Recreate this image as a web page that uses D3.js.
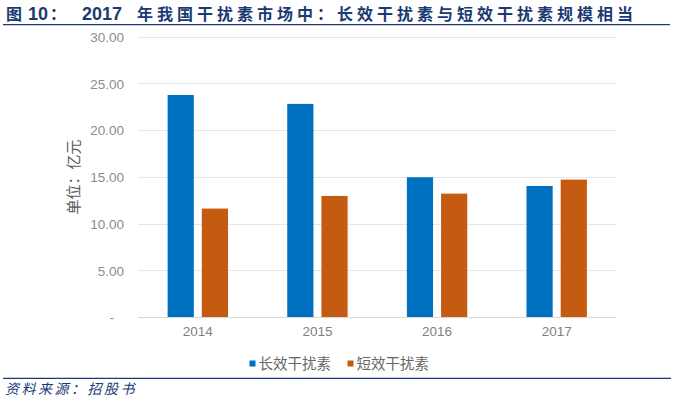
<!DOCTYPE html>
<html><head><meta charset="utf-8">
<script src="https://cdn.jsdelivr.net/npm/d3@7"></script>
<style>
html,body{margin:0;padding:0;background:#fff;}
svg{display:block;}
</style></head>
<body>
<svg id="c" width="684" height="407"></svg>
<script>
const categories = ["2014","2015","2016","2017"];
const seriesNames = ["长效干扰素","短效干扰素"];
const longActing = [23.75, 22.80, 14.95, 14.02];
const shortActing = [11.60, 12.95, 13.20, 14.70];
const yTicks = [0,5,10,15,20,25,30];
const colors = ["#0070C0","#C55A11"];

const svg = d3.select("#c");
const cn = "'Noto Sans CJK SC','Noto Sans',sans-serif";
const lat = "'Liberation Sans',Arial,sans-serif";
const navy = "#1B3A73";

// Title
svg.append("text").attr("x",6).attr("y",20).attr("fill",navy).attr("font-family",cn).attr("font-weight","bold").attr("font-size",16).text("图");
svg.append("text").attr("x",28).attr("y",20).attr("fill",navy).attr("font-family",lat).attr("font-weight","bold").attr("font-size",18).text("10");
svg.append("text").attr("x",50).attr("y",20).attr("fill",navy).attr("font-family",cn).attr("font-weight","bold").attr("font-size",16).text("：");
svg.append("text").attr("x",82).attr("y",20).attr("fill",navy).attr("font-family",lat).attr("font-weight","bold").attr("font-size",18).text("2017");
svg.append("text").attr("x",137).attr("y",20).attr("fill",navy).attr("font-family",cn).attr("font-weight","bold").attr("font-size",16).attr("letter-spacing","4px").text("年我国干扰素市场中：长效干扰素与短效干扰素规模相当");
svg.append("line").attr("x1",3).attr("x2",670).attr("y1",24.7).attr("y2",24.7).attr("stroke",navy).attr("stroke-width",1.3);

// Scales
const x0 = d3.scaleBand().domain(categories).range([138,616.5]).padding(0);
const x1 = d3.scaleBand().domain(seriesNames).range([0,x0.bandwidth()]).paddingInner(0.234).paddingOuter(0.866);
const y = d3.scaleLinear().domain([0,30]).range([317,36.6]);

// Gridlines
svg.append("g").selectAll("line").data(yTicks).join("line")
  .attr("x1",138).attr("x2",616.5)
  .attr("y1",d=>Math.round(y(d))+0.5).attr("y2",d=>Math.round(y(d))+0.5)
  .attr("stroke",d=>d===0?"#d9d9d9":"#e6e6e6").attr("stroke-width",1);

// Y axis labels
const yAxis = d3.axisLeft(y).tickValues(yTicks).tickSize(0).tickPadding(0)
  .tickFormat(d=>d===0?"-":d3.format(".2f")(d));
const gy = svg.append("g").attr("transform","translate(124,0)").call(yAxis);
gy.select(".domain").remove();
gy.selectAll("text").attr("font-family",lat).attr("font-size",13.5).attr("fill","#8c8c8c").attr("dy","0.35em");
gy.selectAll(".tick").filter(d=>d===0).select("text").attr("x",-10);

// Y title
svg.append("text").attr("transform","translate(79,177) rotate(-90)").attr("text-anchor","middle")
  .attr("font-family",cn).attr("font-size",15).attr("fill","#595959").text("单位：亿元");

// Bars
const data = categories.map((c,i)=>({cat:c, vals:[longActing[i], shortActing[i]]}));
const groups = svg.append("g").selectAll("g").data(data).join("g")
  .attr("transform",d=>`translate(${x0(d.cat)},0)`);
groups.selectAll("rect").data(d=>d.vals.map((v,j)=>({name:seriesNames[j],v,j}))).join("rect")
  .attr("x",d=>x1(d.name)).attr("width",x1.bandwidth())
  .attr("y",d=>y(d.v)).attr("height",d=>y(0)-y(d.v))
  .attr("fill",d=>colors[d.j]);

// X axis labels
const xAxis = d3.axisBottom(x0).tickSize(0).tickPadding(0);
const gx = svg.append("g").attr("transform","translate(0,326)").call(xAxis);
gx.select(".domain").remove();
gx.selectAll("text").attr("font-family",lat).attr("font-size",13.5).attr("fill","#7f7f7f").attr("dy","0.71em");

// Legend
const leg = svg.append("g");
const legX = [249.5, 347.5];
seriesNames.forEach((n,i)=>{
  leg.append("rect").attr("x",legX[i]).attr("y",360.5).attr("width",6).attr("height",6).attr("fill",colors[i]);
  leg.append("text").attr("x",legX[i]+9).attr("y",369).attr("font-family",cn).attr("font-size",14.5).attr("fill","#666").text(n);
});

// Footer
svg.append("line").attr("x1",3).attr("x2",671).attr("y1",378.3).attr("y2",378.3).attr("stroke",navy).attr("stroke-width",1.3);
svg.append("text").attr("x",5).attr("y",394).attr("font-family",cn).attr("font-style","italic").attr("font-size",14)
  .attr("letter-spacing","2.5px").attr("fill",navy).text("资料来源：招股书");
</script>
</body></html>
